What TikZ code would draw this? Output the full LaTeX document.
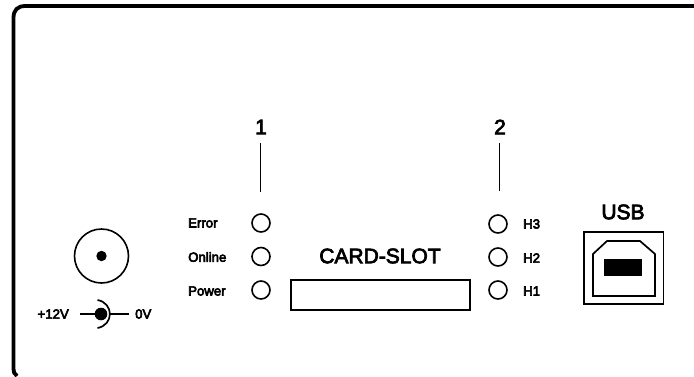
\documentclass[tikz,border=0pt]{standalone}
\usepackage{fontspec}
\setmainfont{Liberation Sans}
\newfontfamily\fakebf[FakeBold=3.5]{Liberation Sans}
\newfontfamily\fakebfheavy[FakeBold=4.5]{Liberation Sans}
\tikzset{
  px/.style={x=1pt,y=-1pt},
  frameline/.style={draw=black,line width=3.8pt},
  thinline/.style={draw=black,line width=1.7pt},
  led/.style={circle,draw=black,line width=1.6pt,minimum size=18pt,inner sep=0pt},
  smalllabel/.style={font=\fakebfheavy\fontsize{13.2pt}{15pt}\selectfont,inner sep=0pt},
  biglabel/.style={font=\fakebf\fontsize{21pt}{23pt}\selectfont,inner sep=0pt},
}
\begin{document}
\begin{tikzpicture}[px]
\useasboundingbox (0,0) rectangle (694,376);
\draw[frameline] (17,376) .. controls (14,374.5) and (13.5,372) .. (13.5,366) -- (13.5,18) .. controls (13.5,10) and (17.5,6) .. (25.5,6) -- (694,6);
\coordinate (top1) at (260.5,143); \coordinate (bot1) at (260.5,192);
\coordinate (top2) at (499.5,143); \coordinate (bot2) at (499.5,191);
\node[biglabel] (n1) at (261,127) {1};
\node[biglabel] (n2) at (500,127) {2};
\draw[thinline] (top1) -- (bot1);
\draw[thinline] (top2) -- (bot2);
\node[led] (e) at (261,223) {};
\node[led] (o) at (261,256.5) {};
\node[led] (p) at (261,290) {};
\node[led] (h3) at (498,224) {};
\node[led] (h2) at (498,257) {};
\node[led] (h1) at (498,290) {};
\node[smalllabel,anchor=west] (le) at (188,223) {Error};
\node[smalllabel,anchor=west] (lo) at (188,257) {Online};
\node[smalllabel,anchor=west] (lp) at (188,291) {Power};
\node[smalllabel,anchor=west] (l3) at (523,224) {H3};
\node[smalllabel,anchor=west] (l2) at (523,258) {H2};
\node[smalllabel,anchor=west] (l1) at (523,291) {H1};
\node[biglabel] (cs) at (380,256) {CARD-SLOT};
\draw[thinline,line width=1.6pt] (291,280) rectangle (470,310);
\node[circle,draw=black,line width=1.6pt,minimum size=54pt,inner sep=0pt] (jack) at (101.5,256) {};
\fill (101.5,256) circle (5.2pt);
\node[smalllabel,anchor=east] (v12) at (69,314) {+12V};
\node[smalllabel,anchor=west] (v0) at (135,314) {0V};
\fill (101,314) circle (6.3pt);
\draw[thinline] (80,314) -- (101,314);
\draw[thinline] (97.5,300) .. controls (114,303) and (114,325) .. (97.5,328);
\draw[thinline] (110,314) -- (129,314);
\node[biglabel] (usb) at (623,212) {USB};
\draw[thinline,line width=1.6pt] (584,232) rectangle (663.5,304);
\draw[thinline] (593,296) -- (593,254) -- (607,241) -- (640,241) -- (655,254) -- (655,296) -- cycle;
\fill (604,258.5) rectangle (642,276);
\end{tikzpicture}
\end{document}
